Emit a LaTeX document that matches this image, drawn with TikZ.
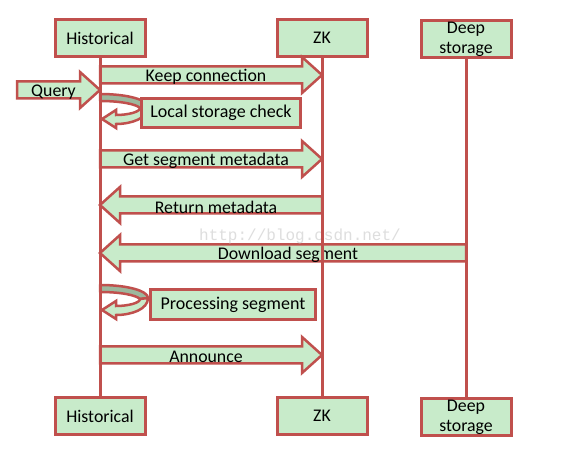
\documentclass[tikz,border=0pt]{standalone}
\usepackage{fontspec}
\setmainfont{Carlito}
\newfontfamily\wmfont{Liberation Mono}
\usetikzlibrary{calc}
\definecolor{bred}{HTML}{C0504D}
\definecolor{lgreen}{HTML}{C8EBCA}
\definecolor{dgreen}{HTML}{9CB89D}
\tikzset{
  actor/.style={draw=bred, line width=3pt, fill=lgreen, minimum width=90pt, minimum height=37pt, inner sep=0pt, align=center, font=\fontsize{17.8}{20}\selectfont},
  sidebox/.style={draw=bred, line width=3pt, fill=lgreen, inner sep=0pt, align=center, font=\fontsize{18}{20}\selectfont},
  arrowbody/.style={draw=bred, line width=2.5pt, fill=lgreen, line join=miter},
  msgtext/.style={font=\fontsize{17.8}{20}\selectfont, inner sep=0pt},
  life/.style={draw=bred, line width=3pt},
  loopdark/.style={draw=bred, line width=2.5pt, fill=dgreen, line join=round},
  looplight/.style={draw=bred, line width=2.5pt, fill=lgreen, line join=miter}
}
\newcommand\msgarrow[3]{%
  \draw[arrowbody] let \p1=(#1), \p2=(#2), \p3=($(#2)!20pt!(#1)$) in
    (\x1,\y1+8.5pt) -- (\x3,\y1+8.5pt) -- (\x3,\y1+18pt) -- (\x2,\y1)
    -- (\x3,\y1-18pt) -- (\x3,\y1-8.5pt) -- (\x1,\y1-8.5pt) -- cycle;
  \coordinate (msgmid) at ($(#1)!0.5!(#2)+(0,1)$);
  \node[msgtext] at ($(msgmid)!5pt!(#1)+(0,1)$) {#3};}
\newcommand\selfloop[1]{%
  \begin{scope}[shift={(0,#1)}]
    \draw[loopdark] (100,94) .. controls (128,94) and (148,100) .. (148,107) -- (140,108)
      .. controls (136,104) and (120,101) .. (100,101) -- cycle;
    \draw[looplight] (148,107) .. controls (148,118) and (132,124) .. (116,124) -- (116,128)
      -- (102,119) -- (116,110) -- (116,115) .. controls (128,115) and (140,112) .. (140,108) -- cycle;
  \end{scope}}
\begin{document}
\begin{tikzpicture}[x=1pt,y=-1pt]
\useasboundingbox[fill=white] (0,0) rectangle (587,465);
% actors
\node[actor] (h1) at (100,38) {Historical};
\node[actor] (z1) at (322,38) {ZK};
\node[actor] (d1) at (466,39) {Deep\\storage};
\node[actor] (h2) at (100,416) {Historical};
\node[actor] (z2) at (322,416) {ZK};
\node[actor] (d2) at (466,417) {Deep\\storage};
% message anchors
\coordinate (kh) at (100,75);  \coordinate (kz) at (322,75);
\coordinate (qs) at (17,90);   \coordinate (qh) at (100,90);
\coordinate (gh) at (100,159); \coordinate (gz) at (322,159);
\coordinate (rz) at (322,205); \coordinate (rh) at (100,205);
\coordinate (dd) at (466,253); \coordinate (dh) at (100,253);
\coordinate (ah) at (100,355); \coordinate (az) at (322,355);
% messages
\msgarrow{kh}{kz}{Keep connection}
\msgarrow{qs}{qh}{Query}
\msgarrow{gh}{gz}{Get segment metadata}
\msgarrow{rz}{rh}{Return metadata}
\msgarrow{dd}{dh}{Download segment}
\msgarrow{ah}{az}{Announce}
\node[font=\wmfont\fontsize{16}{18}\selectfont, text=black!13, inner sep=0pt] (wm) at (300,236) {http://blog.csdn.net/};
% self loops
\selfloop{0}
\selfloop{191}
% lifelines
\draw[life] (h1) -- (h2);
\draw[life] (z1) -- (z2);
\draw[life] (d1) -- (d2);
% side boxes
\node[sidebox, minimum width=159pt, minimum height=29pt] (lsc) at (221,113) {Local storage check};
\node[sidebox, minimum width=165pt, minimum height=30pt] (ps) at (233,304.5) {Processing segment};
\end{tikzpicture}
\end{document}
